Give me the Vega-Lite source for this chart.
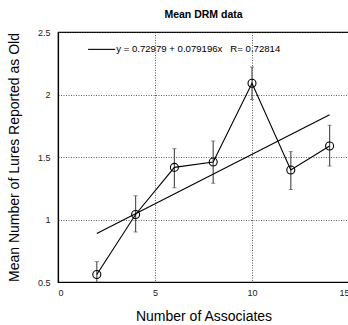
{
  "$schema": "https://vega.github.io/schema/vega-lite/v6.json",
  "autosize": "none",
  "width": 291,
  "height": 250,
  "padding": {"left": 58, "top": 32, "right": 0, "bottom": 43},
  "background": "white",
  "config": {
    "font": "Liberation Sans",
    "view": {"stroke": "black", "strokeWidth": 1.2},
    "axis": {
      "grid": true, "gridColor": "#333", "gridDash": [1, 1.5], "gridWidth": 0.8,
      "domainColor": "black", "domainWidth": 1.2, "tickColor": "black", "ticks": false,
      "labelFont": "Liberation Sans", "labelFontSize": 9, "labelColor": "#222",
      "titleFont": "Liberation Sans", "titleFontWeight": "normal", "titleFontSize": 14, "titleColor": "black"
    }
  },
  "title": {"text": "Mean DRM data", "fontSize": 10.5, "fontWeight": "bold", "font": "Liberation Sans", "offset": 8, "anchor": "middle"},
  "datasets": {
    "pts": [
      {"n": 2, "m": 0.56, "lo": 0.46, "hi": 0.663},
      {"n": 4, "m": 1.04, "lo": 0.9, "hi": 1.19},
      {"n": 6, "m": 1.417, "lo": 1.254, "hi": 1.567},
      {"n": 8, "m": 1.46, "lo": 1.29, "hi": 1.628},
      {"n": 10, "m": 2.09, "lo": 1.96, "hi": 2.22},
      {"n": 12, "m": 1.396, "lo": 1.24, "hi": 1.543},
      {"n": 14, "m": 1.588, "lo": 1.428, "hi": 1.754}
    ],
    "fit": [
      {"n": 2, "m": 0.888},
      {"n": 14, "m": 1.838}
    ],
    "leg": [
      {"x1": 1.55, "x2": 2.95, "y": 2.361, "tx": 3.0, "label": "y = 0.72979 + 0.079196x\u00a0\u00a0\u00a0R=\u00a00.72814"}
    ]
  },
  "layer": [
    {
      "data": {"name": "pts"},
      "mark": {"type": "rule", "color": "#555", "strokeWidth": 1.2, "clip": true},
      "encoding": {
        "x": {"field": "n", "type": "quantitative", "scale": {"domain": [0, 15], "nice": false},
          "axis": {"values": [0, 5, 10, 15], "title": "Number of Associates", "labelPadding": 6, "titlePadding": 12}},
        "y": {"field": "lo", "type": "quantitative", "scale": {"domain": [0.5, 2.5], "nice": false},
          "axis": {"values": [0.5, 1, 1.5, 2, 2.5], "format": "~g", "title": "Mean Number of Lures Reported as Old", "labelPadding": 8, "titlePadding": 16}},
        "y2": {"field": "hi"}
      }
    },
    {
      "data": {"name": "pts"},
      "mark": {"type": "tick", "color": "#555", "size": 4, "thickness": 1, "orient": "horizontal", "clip": true},
      "encoding": {
        "x": {"field": "n", "type": "quantitative"},
        "y": {"field": "hi", "type": "quantitative"}
      }
    },
    {
      "data": {"name": "pts"},
      "mark": {"type": "tick", "color": "#555", "size": 4, "thickness": 1, "orient": "horizontal", "clip": true},
      "encoding": {
        "x": {"field": "n", "type": "quantitative"},
        "y": {"field": "lo", "type": "quantitative"}
      }
    },
    {
      "data": {"name": "fit"},
      "mark": {"type": "line", "color": "black", "strokeWidth": 1.1},
      "encoding": {
        "x": {"field": "n", "type": "quantitative"},
        "y": {"field": "m", "type": "quantitative"}
      }
    },
    {
      "data": {"name": "pts"},
      "mark": {"type": "line", "color": "black", "strokeWidth": 1.1},
      "encoding": {
        "x": {"field": "n", "type": "quantitative"},
        "y": {"field": "m", "type": "quantitative"}
      }
    },
    {
      "data": {"name": "pts"},
      "mark": {"type": "point", "shape": "circle", "filled": false, "stroke": "black", "strokeWidth": 1.1, "size": 64, "opacity": 1},
      "encoding": {
        "x": {"field": "n", "type": "quantitative"},
        "y": {"field": "m", "type": "quantitative"}
      }
    },
    {
      "data": {"name": "leg"},
      "mark": {"type": "rule", "color": "black", "strokeWidth": 1.1},
      "encoding": {
        "x": {"field": "x1", "type": "quantitative"},
        "x2": {"field": "x2"},
        "y": {"field": "y", "type": "quantitative"}
      }
    },
    {
      "data": {"name": "leg"},
      "mark": {"type": "text", "align": "left", "baseline": "middle", "fontSize": 9.6, "font": "Liberation Sans", "color": "black"},
      "encoding": {
        "x": {"field": "tx", "type": "quantitative"},
        "y": {"field": "y", "type": "quantitative"},
        "text": {"field": "label"}
      }
    }
  ]
}
